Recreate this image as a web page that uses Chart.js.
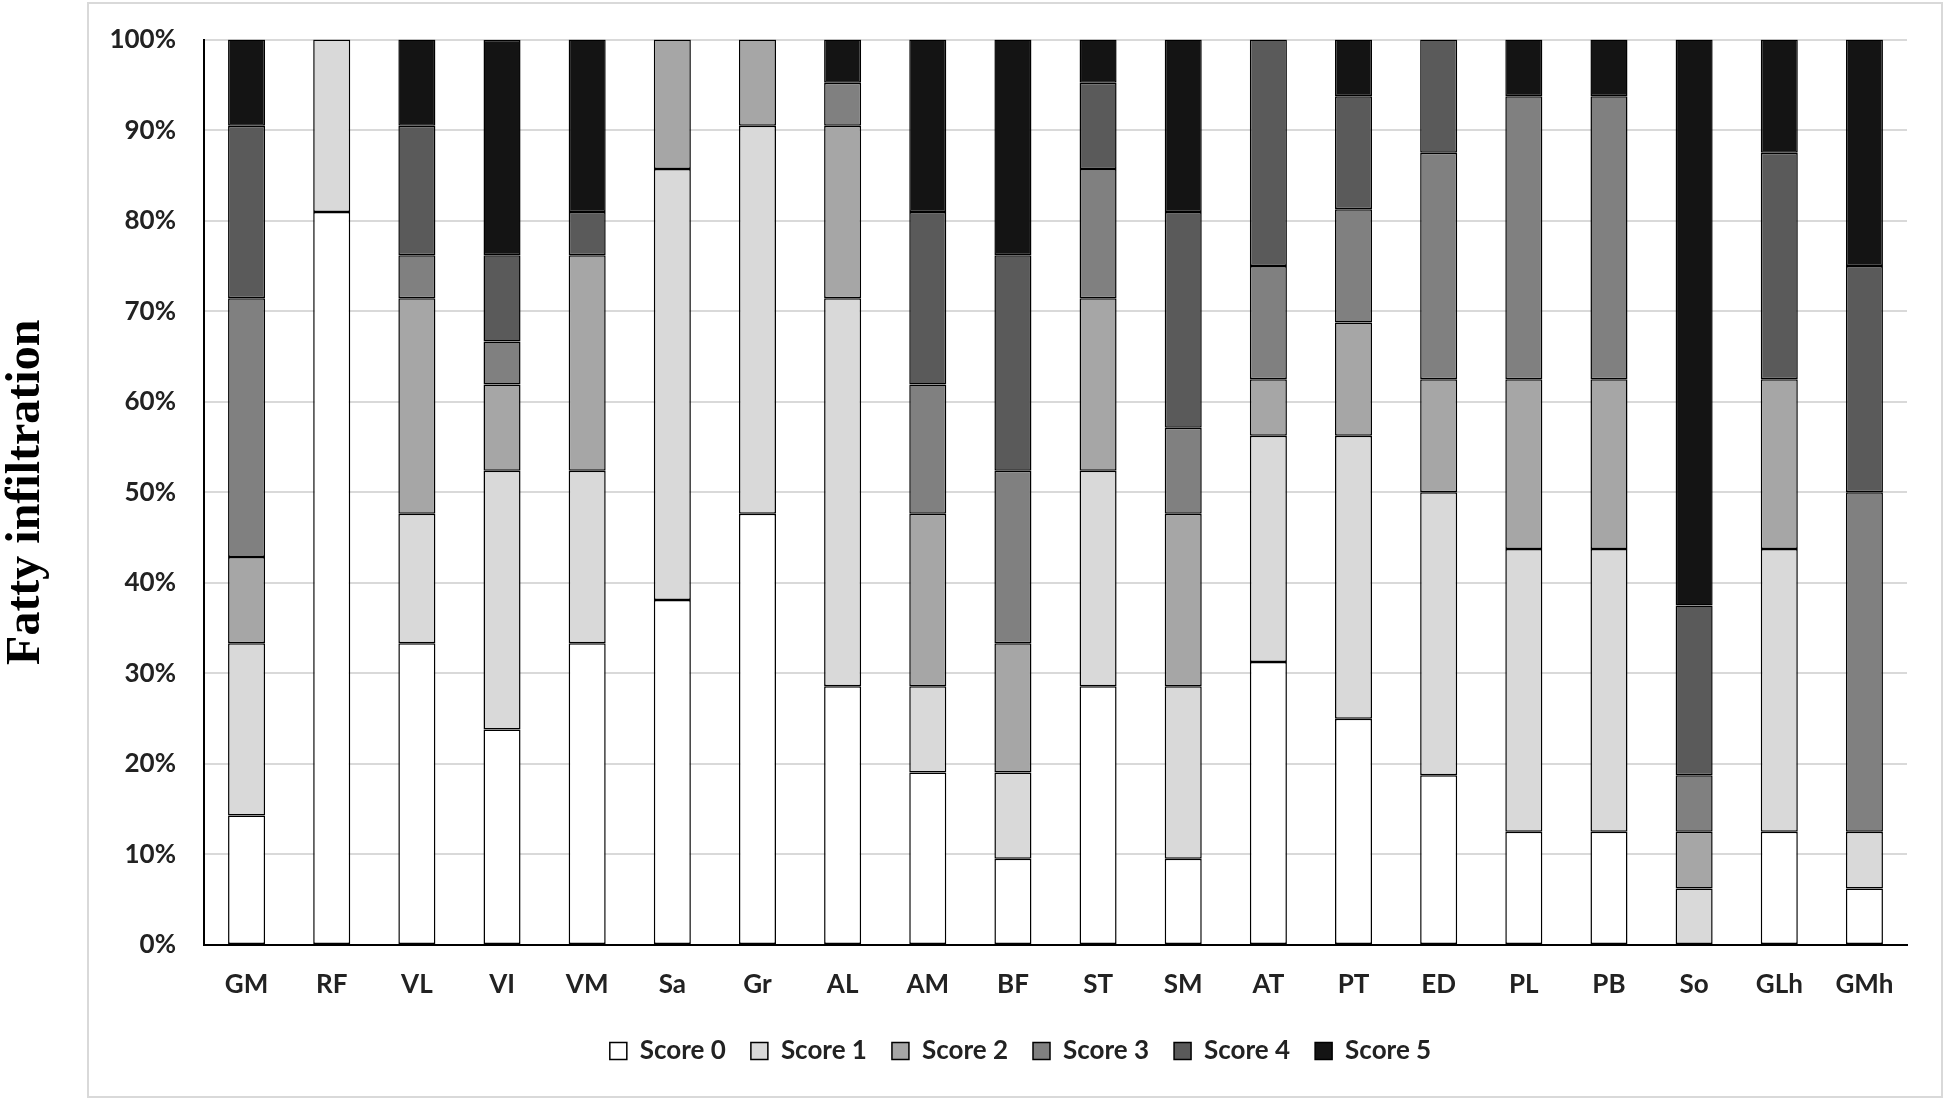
<!DOCTYPE html>
<html><head><meta charset="utf-8">
<script src="https://cdn.jsdelivr.net/npm/chart.js@4/dist/chart.umd.min.js"></script>
<style>html,body{margin:0;padding:0;background:#fff;} canvas{display:block;}</style>
</head><body>
<canvas id="c" width="1946" height="1101"></canvas>
<script>
const categories = ['GM','RF','VL','VI','VM','Sa','Gr','AL','AM','BF','ST','SM','AT','PT','ED','PL','PB','So','GLh','GMh'];
const score0 = [14.29, 80.95, 33.33, 23.81, 33.33, 38.10, 47.62, 28.57, 19.05, 9.52, 28.57, 9.52, 31.25, 25.00, 18.75, 12.50, 12.50, 0, 12.50, 6.25];
const score1 = [19.05, 19.05, 14.29, 28.57, 19.05, 47.62, 42.86, 42.86, 9.52, 9.52, 23.81, 19.05, 25.00, 31.25, 31.25, 31.25, 31.25, 6.25, 31.25, 6.25];
const score2 = [9.52, 0, 23.81, 9.52, 23.81, 14.28, 9.52, 19.05, 19.05, 14.29, 19.05, 19.05, 6.25, 12.50, 12.50, 18.75, 18.75, 6.25, 18.75, 0];
const score3 = [28.57, 0, 4.76, 4.76, 0, 0, 0, 4.76, 14.29, 19.05, 14.29, 9.52, 12.50, 12.50, 25.00, 31.25, 31.25, 6.25, 0, 37.50];
const score4 = [19.05, 0, 14.29, 9.52, 4.76, 0, 0, 0, 19.05, 23.81, 9.52, 23.81, 25.00, 12.50, 12.50, 0, 0, 18.75, 25.00, 25.00];
const score5 = [9.52, 0, 9.52, 23.81, 19.05, 0, 0, 4.76, 19.05, 23.81, 4.76, 19.05, 0, 6.25, 0, 6.25, 6.25, 62.50, 12.50, 25.00];
const seriesLabels = ['Score 0','Score 1','Score 2','Score 3','Score 4','Score 5'];
const seriesData = [score0, score1, score2, score3, score4, score5];
const seriesColors = ['#ffffff','#d9d9d9','#a6a6a6','#808080','#5a5a5a','#141414'];
const yTickLabels = ['0%','10%','20%','30%','40%','50%','60%','70%','80%','90%','100%'];
const yTitle = 'Fatty infiltration';

const frame = {
  id: 'frame',
  beforeDraw(chart) {
    const c = chart.ctx;
    c.save();
    c.fillStyle = '#fff';
    c.fillRect(0, 0, chart.width, chart.height);
    c.strokeStyle = '#d9d9d9';
    c.lineWidth = 2;
    c.strokeRect(88, 3, 1854, 1094);
    c.restore();
  },
  afterLayout(chart) {
    if (chart.legend) { chart.legend.left += 67; chart.legend.right += 67; }
  }
};

function draw() {
  const tickFont = {family: 'Lato', size: 26, weight: 'bold'};
  new Chart(document.getElementById('c'), {
    type: 'bar',
    data: {
      labels: categories,
      datasets: seriesLabels.map((l, i) => ({
        label: l,
        data: seriesData[i],
        backgroundColor: seriesColors[i],
        borderColor: '#000',
        borderWidth: 1.5,
        borderSkipped: false,
        barPercentage: 0.435,
        categoryPercentage: 1
      }))
    },
    options: {
      responsive: false,
      animation: false,
      devicePixelRatio: 1,
      layout: {padding: {top: 20, right: 39, bottom: 27, left: 0}},
      plugins: {
        legend: {
          position: 'bottom',
          labels: {boxWidth: 17, boxHeight: 17, padding: 25, color: '#222', font: tickFont}
        },
        tooltip: {enabled: false}
      },
      scales: {
        x: {
          stacked: true,
          grid: {display: false, drawTicks: false},
          border: {color: '#000', width: 2},
          ticks: {padding: 24, color: '#222', font: tickFont, maxRotation: 0},
          afterFit(s) { s.height = 68; }
        },
        y: {
          stacked: true,
          min: 0, max: 100,
          ticks: {stepSize: 10, padding: 24, color: '#222', font: tickFont,
                  callback: (v, i) => yTickLabels[i]},
          grid: {color: '#d9d9d9', lineWidth: 2, drawTicks: true, tickLength: 4, tickColor: 'rgba(0,0,0,0)'},
          border: {color: '#000', width: 2},
          title: {display: true, text: yTitle, color: '#000',
                  font: {family: 'Liberation Serif', size: 48, weight: 'bold', lineHeight: 1},
                  padding: {top: 3, bottom: 0}},
          afterFit(s) { s.width = 204; }
        }
      }
    },
    plugins: [frame]
  });
}
Promise.all([
  document.fonts.load('bold 26px Lato'),
  document.fonts.load('bold 48px "Liberation Serif"')
]).then(draw, draw);
</script>
</body></html>
